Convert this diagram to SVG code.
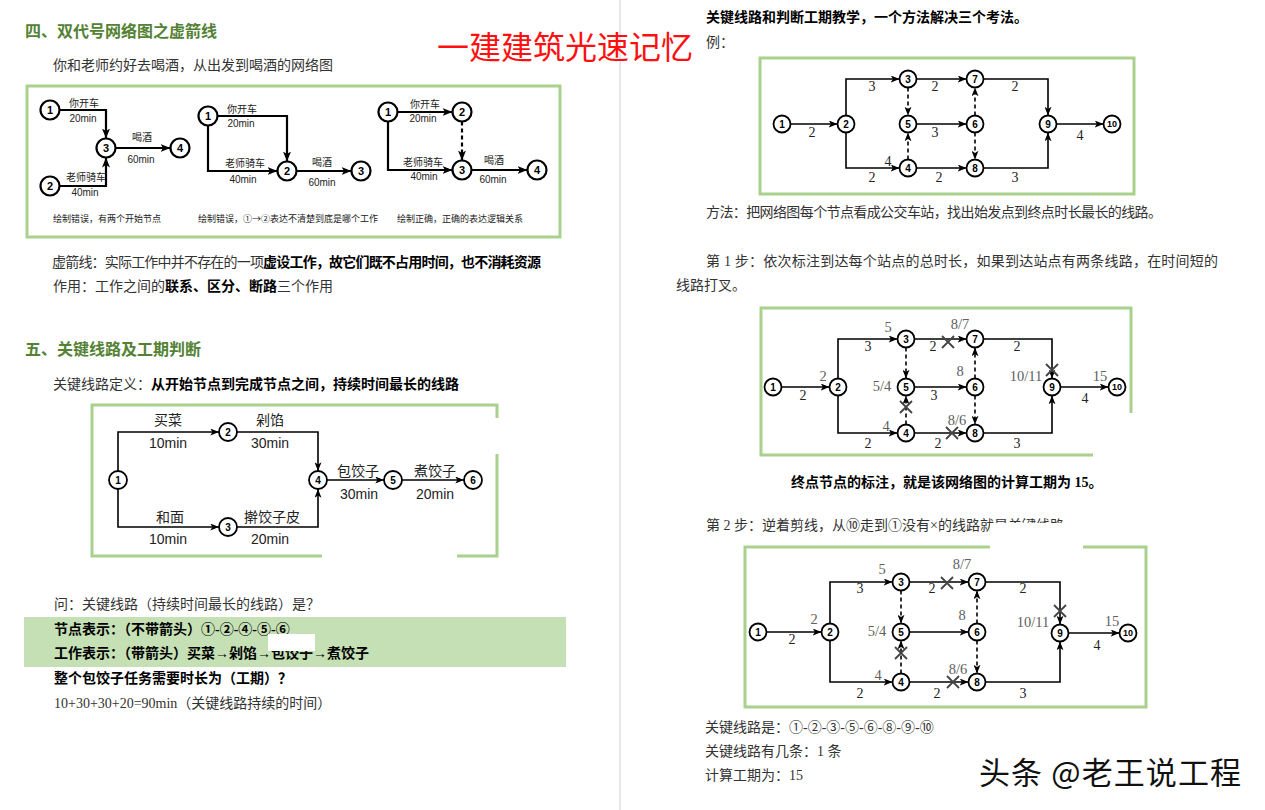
<svg xmlns="http://www.w3.org/2000/svg" width="1265" height="810" viewBox="0 0 1265 810">
<defs>
<style>
text{dominant-baseline:central}
.t{font-family:"Liberation Serif","Noto Sans CJK SC",serif;font-size:14px;fill:#333}
.k{font-weight:bold;fill:#000}
.h{font-family:"Noto Sans CJK SC",sans-serif;font-weight:bold;font-size:16px;fill:#548235}
.s{font-family:"Liberation Sans","Noto Sans CJK SC",sans-serif;font-size:10px;fill:#222;text-anchor:middle}
.cap{font-family:"Noto Sans CJK SC",sans-serif;font-size:9px;fill:#222}
.m{font-family:"Liberation Sans","Noto Sans CJK SC",sans-serif;font-size:14px;fill:#222;text-anchor:middle}
.nn{font-family:"Liberation Sans",sans-serif;font-weight:bold;text-anchor:middle;fill:#000}
.f11{font-size:11px}.f10{font-size:10px}.f9{font-size:9px}
.c1{fill:#fff;stroke:#000;stroke-width:2.2}
.c2{fill:#fff;stroke:#000;stroke-width:1.8}
.box{fill:none;stroke:#a9d18e;stroke-width:3}
.e1{fill:none;stroke:#000;stroke-width:2.2;marker-end:url(#a1)}
.e2{fill:none;stroke:#000;stroke-width:1.6;marker-end:url(#a2)}
.dash{stroke-dasharray:4 3}
.el{font-family:"Liberation Serif",serif;font-size:14px;fill:#222;text-anchor:middle}
.gl{font-family:"Liberation Serif",serif;font-size:14.5px;fill:#606060;text-anchor:middle}
.x{stroke:#444;stroke-width:1.8;fill:none}
.wh{fill:#fff}
</style>
<marker id="a1" viewBox="0 0 10 8" refX="10" refY="4" markerWidth="10" markerHeight="8" markerUnits="userSpaceOnUse" orient="auto"><path d="M0,0 L10,4 L0,8 L2.5,4 z" fill="#000"/></marker>
<marker id="a2" viewBox="0 0 10 8" refX="10" refY="4" markerWidth="9" markerHeight="7" markerUnits="userSpaceOnUse" orient="auto"><path d="M0,0 L10,4 L0,8 L2.5,4 z" fill="#000"/></marker>
<path id="xm" d="M-6,-6 L6,6 M6,-6 L-6,6"/>
</defs>
<rect width="1265" height="810" fill="#fff"/>
<line x1="620" y1="0" x2="620" y2="810" stroke="#d0d0d0" stroke-width="1"/>

<!-- LEFT PAGE TEXT -->
<g id="left-text">
<text class="h" x="25" y="30">四、双代号网络图之虚箭线</text>
<text x="437" y="45" font-family="Noto Sans CJK SC, sans-serif" font-size="32" fill="#ff1010">一建建筑光速记忆</text>
<text class="t" x="53" y="65">你和老师约好去喝酒，从出发到喝酒的网络图</text>
<text class="t" x="52" y="262" textLength="489">虚箭线：实际工作中并不存在的一项<tspan class="k">虚设工作，故它们既不占用时间，也不消耗资源</tspan></text>
<text class="t" x="53" y="286">作用：工作之间的<tspan class="k">联系、区分、断路</tspan>三个作用</text>
<text class="h" x="25" y="348">五、关键线路及工期判断</text>
<text class="t" x="53" y="384">关键线路定义：<tspan class="k">从开始节点到完成节点之间，持续时间最长的线路</tspan></text>
<text class="t" x="54" y="604">问：关键线路（持续时间最长的线路）是？</text>
<rect x="24" y="617" width="542" height="50" fill="#c5e0b4"/>
<text class="t k" x="54" y="629">节点表示：（不带箭头）①-②-④-⑤-⑥</text>
<text class="t k" x="54" y="653">工作表示：（带箭头）买菜→剁馅→包饺子→煮饺子</text>
<rect class="wh" x="268" y="634" width="47" height="17"/>
<text class="t k" x="54" y="678">整个包饺子任务需要时长为（工期）？</text>
<text class="t" x="54" y="703" fill="#111">10+30+30+20=90min（关键线路持续的时间）</text>
</g>

<rect class="box" x="27" y="86" width="533" height="151"/>

<!-- Diagram 1 -->
<g id="d1-edges">
<path class="e1" d="M59.5,110 H106 V138.5"/>
<path class="e1" d="M59.5,186 H106 V157.5"/>
<path class="e1" d="M115.5,148 H170.5"/>
<text class="s" x="84" y="103">你开车</text><text class="s" x="83" y="118">20min</text>
<text class="s" x="86" y="177">老师骑车</text><text class="s" x="85" y="192">40min</text>
<text class="s" x="142" y="137">喝酒</text><text class="s" x="141" y="159">60min</text>
</g>
<g id="d1-n1"><circle class="c1" cx="50" cy="110" r="9.5"/><text class="nn f11" x="50" y="110">1</text></g>
<g id="d1-n2"><circle class="c1" cx="50" cy="186" r="9.5"/><text class="nn f11" x="50" y="186">2</text></g>
<g id="d1-n3"><circle class="c1" cx="106" cy="148" r="9.5"/><text class="nn f11" x="106" y="148">3</text></g>
<g id="d1-n4"><circle class="c1" cx="180" cy="148" r="9.5"/><text class="nn f11" x="180" y="148">4</text></g>
<text class="cap" x="53" y="218">绘制错误，有两个开始节点</text>

<!-- Diagram 2 -->
<g id="d2-edges">
<path class="e1" d="M217.5,116 H287 V161.5"/>
<path class="e1" d="M208,125.5 V171 H277.5"/>
<path class="e1" d="M296.5,171 H351.5"/>
<text class="s" x="242" y="109">你开车</text><text class="s" x="241" y="123">20min</text>
<text class="s" x="245" y="163">老师骑车</text><text class="s" x="243" y="179">40min</text>
<text class="s" x="322" y="162">喝酒</text><text class="s" x="322" y="182">60min</text>
</g>
<g id="d2-n1"><circle class="c1" cx="208" cy="116" r="9.5"/><text class="nn f11" x="208" y="116">1</text></g>
<g id="d2-n2"><circle class="c1" cx="287" cy="171" r="9.5"/><text class="nn f11" x="287" y="171">2</text></g>
<g id="d2-n3"><circle class="c1" cx="361" cy="171" r="9.5"/><text class="nn f11" x="361" y="171">3</text></g>
<text class="cap" x="198" y="218">绘制错误，①→②表达不清楚到底是哪个工作</text>

<!-- Diagram 3 -->
<g id="d3-edges">
<path class="e1" d="M397.5,112 H452.5"/>
<path class="e1 dash" d="M462,121.5 V160.5"/>
<path class="e1" d="M388,121.5 V170 H452.5"/>
<path class="e1" d="M471.5,170 H527.5"/>
<text class="s" x="425" y="104">你开车</text><text class="s" x="423" y="118">20min</text>
<text class="s" x="423" y="162">老师骑车</text><text class="s" x="424" y="176">40min</text>
<text class="s" x="494" y="160">喝酒</text><text class="s" x="493" y="179">60min</text>
</g>
<g id="d3-n1"><circle class="c1" cx="388" cy="112" r="9.5"/><text class="nn f11" x="388" y="112">1</text></g>
<g id="d3-n2"><circle class="c1" cx="462" cy="112" r="9.5"/><text class="nn f11" x="462" y="112">2</text></g>
<g id="d3-n3"><circle class="c1" cx="462" cy="170" r="9.5"/><text class="nn f11" x="462" y="170">3</text></g>
<g id="d3-n4"><circle class="c1" cx="537" cy="170" r="9.5"/><text class="nn f11" x="537" y="170">4</text></g>
<text class="cap" x="397" y="218">绘制正确，正确的表达逻辑关系</text>

<!-- Diagram 4 -->
<rect class="box" x="92" y="405" width="405" height="151"/>
<rect class="wh" x="466" y="418" width="40" height="36"/>
<rect class="wh" x="322" y="545" width="135" height="20"/>
<g id="d4-edges">
<path class="e2" d="M118,471 V432 H219"/>
<path class="e2" d="M118,489 V527 H219"/>
<path class="e2" d="M237,432 H318 V471"/>
<path class="e2" d="M237,527 H318 V489"/>
<path class="e2" d="M327,480 H384"/>
<path class="e2" d="M402,480 H464"/>
<text class="m" x="168" y="420">买菜</text><text class="m" x="168" y="443">10min</text>
<text class="m" x="270" y="420">剁馅</text><text class="m" x="270" y="443">30min</text>
<text class="m" x="170" y="517">和面</text><text class="m" x="168" y="539">10min</text>
<text class="m" x="272" y="517">擀饺子皮</text><text class="m" x="270" y="539">20min</text>
<text class="m" x="358" y="471">包饺子</text><text class="m" x="359" y="494">30min</text>
<text class="m" x="435" y="471">煮饺子</text><text class="m" x="435" y="494">20min</text>
</g>
<g id="d4-n1"><circle class="c2" cx="118" cy="480" r="9"/><text class="nn f10" x="118" y="480">1</text></g>
<g id="d4-n2"><circle class="c2" cx="228" cy="432" r="9"/><text class="nn f10" x="228" y="432">2</text></g>
<g id="d4-n3"><circle class="c2" cx="228" cy="527" r="9"/><text class="nn f10" x="228" y="527">3</text></g>
<g id="d4-n4"><circle class="c2" cx="318" cy="480" r="9"/><text class="nn f10" x="318" y="480">4</text></g>
<g id="d4-n5"><circle class="c2" cx="393" cy="480" r="9"/><text class="nn f10" x="393" y="480">5</text></g>
<g id="d4-n6"><circle class="c2" cx="473" cy="480" r="9"/><text class="nn f10" x="473" y="480">6</text></g>

<!-- RIGHT PAGE TEXT -->
<g id="right-text">
<text class="t k" x="706" y="17">关键线路和判断工期教学，一个方法解决三个考法。</text>
<text class="t" x="706" y="42">例：</text>
<text class="t" x="706" y="212" textLength="456">方法：把网络图每个节点看成公交车站，找出始发点到终点时长最长的线路。</text>
<text class="t" x="706" y="261" textLength="512">第 1 步：依次标注到达每个站点的总时长，如果到达站点有两条线路，在时间短的</text>
<text class="t" x="676" y="285">线路打叉。</text>
<text class="t k" x="791" y="482">终点节点的标注，就是该网络图的计算工期为 15。</text>
<text class="t" x="706" y="525">第 2 步：逆着剪线，从⑩走到①没有×的线路就是关键线路</text>
<text class="t" x="705" y="727">关键线路是：①-②-③-⑤-⑥-⑧-⑨-⑩</text>
<text class="t" x="705" y="751">关键线路有几条：1 条</text>
<text class="t" x="705" y="775">计算工期为：15</text>
<text x="979" y="770" font-family="Noto Sans CJK SC, sans-serif" font-size="31" fill="#111" textLength="262">头条 @老王说工程</text>
</g>

<!-- Network A -->
<rect class="box" x="760" y="58" width="374" height="136"/>
<g id="nA-edges">
<path class="e2" d="M790.5,124 H837.5"/>
<path class="e2" d="M846,115.5 V79 H899.5"/>
<path class="e2" d="M846,132.5 V168 H899.5"/>
<path class="e2" d="M916.5,79 H966.5"/>
<path class="e2 dash" d="M908,87.5 V115.5"/>
<path class="e2 dash" d="M908,159.5 V132.5"/>
<path class="e2" d="M916.5,124 H966.5"/>
<path class="e2 dash" d="M975,115.5 V87.5"/>
<path class="e2 dash" d="M975,132.5 V159.5"/>
<path class="e2" d="M916.5,168 H966.5"/>
<path class="e2" d="M983.5,79 H1048 V115.5"/>
<path class="e2" d="M983.5,168 H1048 V132.5"/>
<path class="e2" d="M1056.5,124 H1103.5"/>
<text class="el" x="812" y="132">2</text>
<text class="el" x="872" y="86">3</text>
<text class="el" x="872" y="177">2</text>
<text class="el" x="888" y="161">4</text>
<text class="el" x="935" y="86">2</text>
<text class="el" x="935" y="132">3</text>
<text class="el" x="939" y="177">2</text>
<text class="el" x="1015" y="86">2</text>
<text class="el" x="1015" y="177">3</text>
<text class="el" x="1080" y="135">4</text>
</g>
<g id="nA-1"><circle class="c2" cx="782" cy="124" r="8.5"/><text class="nn f10" x="782" y="124">1</text></g>
<g id="nA-2"><circle class="c2" cx="846" cy="124" r="8.5"/><text class="nn f10" x="846" y="124">2</text></g>
<g id="nA-3"><circle class="c2" cx="908" cy="79" r="8.5"/><text class="nn f10" x="908" y="79">3</text></g>
<g id="nA-5"><circle class="c2" cx="908" cy="124" r="8.5"/><text class="nn f10" x="908" y="124">5</text></g>
<g id="nA-4"><circle class="c2" cx="908" cy="168" r="8.5"/><text class="nn f10" x="908" y="168">4</text></g>
<g id="nA-7"><circle class="c2" cx="975" cy="79" r="8.5"/><text class="nn f10" x="975" y="79">7</text></g>
<g id="nA-6"><circle class="c2" cx="975" cy="124" r="8.5"/><text class="nn f10" x="975" y="124">6</text></g>
<g id="nA-8"><circle class="c2" cx="975" cy="168" r="8.5"/><text class="nn f10" x="975" y="168">8</text></g>
<g id="nA-9"><circle class="c2" cx="1048" cy="124" r="8.5"/><text class="nn f10" x="1048" y="124">9</text></g>
<g id="nA-10"><circle class="c2" cx="1112" cy="124" r="8.5"/><text class="nn f9" x="1112" y="124">10</text></g>

<!-- Network B -->
<rect class="box" x="761" y="308" width="370" height="147"/>
<rect class="wh" x="1093" y="413" width="50" height="50"/>
<g id="nB-edges">
<path class="e2" d="M781.5,387 H829.5"/>
<path class="e2" d="M838,378.5 V339 H897.5"/>
<path class="e2" d="M838,395.5 V433 H897.5"/>
<path class="e2" d="M914.5,339 H966.5"/>
<path class="e2 dash" d="M906,347.5 V378.5"/>
<path class="e2 dash" d="M906,424.5 V395.5"/>
<path class="e2" d="M914.5,387 H966.5"/>
<path class="e2 dash" d="M975,378.5 V347.5"/>
<path class="e2 dash" d="M975,395.5 V424.5"/>
<path class="e2" d="M914.5,433 H966.5"/>
<path class="e2" d="M983.5,339 H1052 V378.5"/>
<path class="e2" d="M983.5,433 H1052 V395.5"/>
<path class="e2" d="M1060.5,387 H1108.5"/>
<text class="el" x="803" y="395">2</text>
<text class="el" x="868" y="346">3</text>
<text class="el" x="933" y="346">2</text>
<text class="el" x="1017" y="346">2</text>
<text class="el" x="934" y="395">3</text>
<text class="el" x="868" y="443">2</text>
<text class="el" x="938" y="443">2</text>
<text class="el" x="1017" y="443">3</text>
<text class="el" x="1085" y="398">4</text>
<text class="gl" x="823" y="376">2</text>
<text class="gl" x="888" y="327">5</text>
<text class="gl" x="960" y="324">8/7</text>
<text class="gl" x="960" y="371">8</text>
<text class="gl" x="882" y="386">5/4</text>
<text class="gl" x="886" y="426">4</text>
<text class="gl" x="957" y="420">8/6</text>
<text class="gl" x="1026" y="376">10/11</text>
<text class="gl" x="1100" y="376">15</text>
<use href="#xm" class="x" x="948" y="342"/>
<use href="#xm" class="x" x="906" y="407"/>
<use href="#xm" class="x" x="952" y="433"/>
<use href="#xm" class="x" x="1052" y="370"/>
</g>
<g id="nB-1"><circle class="c2" cx="773" cy="387" r="8.5"/><text class="nn f10" x="773" y="387">1</text></g>
<g id="nB-2"><circle class="c2" cx="838" cy="387" r="8.5"/><text class="nn f10" x="838" y="387">2</text></g>
<g id="nB-3"><circle class="c2" cx="906" cy="339" r="8.5"/><text class="nn f10" x="906" y="339">3</text></g>
<g id="nB-5"><circle class="c2" cx="906" cy="387" r="8.5"/><text class="nn f10" x="906" y="387">5</text></g>
<g id="nB-4"><circle class="c2" cx="906" cy="433" r="8.5"/><text class="nn f10" x="906" y="433">4</text></g>
<g id="nB-7"><circle class="c2" cx="975" cy="339" r="8.5"/><text class="nn f10" x="975" y="339">7</text></g>
<g id="nB-6"><circle class="c2" cx="975" cy="387" r="8.5"/><text class="nn f10" x="975" y="387">6</text></g>
<g id="nB-8"><circle class="c2" cx="975" cy="433" r="8.5"/><text class="nn f10" x="975" y="433">8</text></g>
<g id="nB-9"><circle class="c2" cx="1052" cy="387" r="8.5"/><text class="nn f10" x="1052" y="387">9</text></g>
<g id="nB-10"><circle class="c2" cx="1117" cy="387" r="8.5"/><text class="nn f9" x="1117" y="387">10</text></g>

<!-- Network C -->
<rect class="box" x="745" y="547" width="401" height="160"/>
<rect class="wh" x="990" y="523" width="93" height="32"/>
<g id="nC-edges">
<path class="e2" d="M766.5,632 H821.5"/>
<path class="e2" d="M830,623.5 V582 H892.5"/>
<path class="e2" d="M830,640.5 V682 H892.5"/>
<path class="e2" d="M909.5,582 H968.5"/>
<path class="e2 dash" d="M901,590.5 V623.5"/>
<path class="e2 dash" d="M901,673.5 V640.5"/>
<path class="e2" d="M909.5,632 H968.5"/>
<path class="e2 dash" d="M977,623.5 V590.5"/>
<path class="e2 dash" d="M977,640.5 V673.5"/>
<path class="e2" d="M909.5,682 H968.5"/>
<path class="e2" d="M985.5,582 H1060 V624.5"/>
<path class="e2" d="M985.5,682 H1060 V641.5"/>
<path class="e2" d="M1068.5,633 H1119.5"/>
<text class="el" x="792" y="639">2</text>
<text class="el" x="860" y="588">3</text>
<text class="el" x="932" y="588">2</text>
<text class="el" x="1023" y="588">2</text>
<text class="el" x="860" y="693">2</text>
<text class="el" x="937" y="693">2</text>
<text class="el" x="1023" y="693">3</text>
<text class="el" x="1097" y="645">4</text>
<text class="gl" x="814" y="619">2</text>
<text class="gl" x="882" y="569">5</text>
<text class="gl" x="962" y="564">8/7</text>
<text class="gl" x="962" y="615">8</text>
<text class="gl" x="877" y="631">5/4</text>
<text class="gl" x="878" y="675">4</text>
<text class="gl" x="958" y="669">8/6</text>
<text class="gl" x="1033" y="622">10/11</text>
<text class="gl" x="1112" y="621">15</text>
<use href="#xm" class="x" x="947" y="583"/>
<use href="#xm" class="x" x="901" y="653"/>
<use href="#xm" class="x" x="953" y="682"/>
<use href="#xm" class="x" x="1060" y="611"/>
</g>
<g id="nC-1"><circle class="c2" cx="758" cy="632" r="8.5"/><text class="nn f10" x="758" y="632">1</text></g>
<g id="nC-2"><circle class="c2" cx="830" cy="632" r="8.5"/><text class="nn f10" x="830" y="632">2</text></g>
<g id="nC-3"><circle class="c2" cx="901" cy="582" r="8.5"/><text class="nn f10" x="901" y="582">3</text></g>
<g id="nC-5"><circle class="c2" cx="901" cy="632" r="8.5"/><text class="nn f10" x="901" y="632">5</text></g>
<g id="nC-4"><circle class="c2" cx="901" cy="682" r="8.5"/><text class="nn f10" x="901" y="682">4</text></g>
<g id="nC-7"><circle class="c2" cx="977" cy="582" r="8.5"/><text class="nn f10" x="977" y="582">7</text></g>
<g id="nC-6"><circle class="c2" cx="977" cy="632" r="8.5"/><text class="nn f10" x="977" y="632">6</text></g>
<g id="nC-8"><circle class="c2" cx="977" cy="682" r="8.5"/><text class="nn f10" x="977" y="682">8</text></g>
<g id="nC-9"><circle class="c2" cx="1060" cy="633" r="8.5"/><text class="nn f10" x="1060" y="633">9</text></g>
<g id="nC-10"><circle class="c2" cx="1128" cy="633" r="8.5"/><text class="nn f9" x="1128" y="633">10</text></g>
</svg>
